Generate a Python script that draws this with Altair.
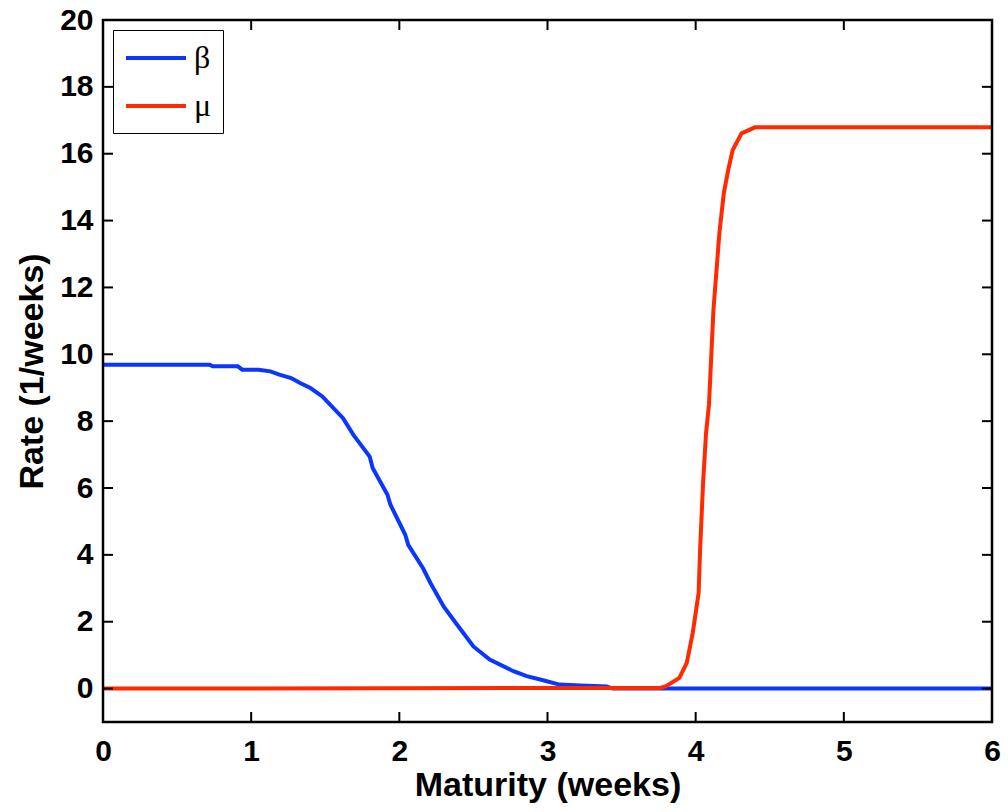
import altair as alt
import pandas as pd

# beta series (maturity in weeks, rate 1/weeks)
beta_x = [0.0, 0.72, 0.74, 0.91, 0.94, 1.05, 1.13, 1.19, 1.27, 1.33, 1.40, 1.48,
          1.62, 1.69, 1.80, 1.82, 1.92, 1.94, 2.04, 2.06, 2.16, 2.21, 2.30, 2.39,
          2.50, 2.61, 2.77, 2.86, 2.97, 3.08, 3.22, 3.40, 3.44, 6.0]
beta_y = [9.69, 9.69, 9.64, 9.64, 9.54, 9.54, 9.49, 9.39, 9.29, 9.14, 8.99, 8.74,
          8.09, 7.59, 6.94, 6.60, 5.80, 5.50, 4.60, 4.30, 3.60, 3.16, 2.45, 1.91,
          1.26, 0.87, 0.52, 0.37, 0.25, 0.12, 0.09, 0.06, 0.0, 0.0]

# mu series
mu_x = [0.0, 3.76, 3.80, 3.89, 3.94, 3.98, 4.02, 4.03, 4.05, 4.07, 4.09, 4.12,
        4.16, 4.19, 4.22, 4.25, 4.31, 4.40, 6.0]
mu_y = [0.0, 0.02, 0.07, 0.32, 0.77, 1.66, 2.86, 4.16, 6.15, 7.64, 8.50, 11.33,
        13.62, 14.82, 15.52, 16.11, 16.61, 16.79, 16.79]

series_names = ["β", "μ"]
series_colors = ["#0a36ff", "#ff2a00"]

x_ticks = [0, 1, 2, 3, 4, 5, 6]
y_ticks = [0, 2, 4, 6, 8, 10, 12, 14, 16, 18, 20]
x_domain = [0, 6]
y_domain = [-1, 20]

rows = []
for i, (xx, yy) in enumerate(zip(beta_x, beta_y)):
    rows.append({"x": xx, "y": yy, "series": series_names[0], "order": i})
for i, (xx, yy) in enumerate(zip(mu_x, mu_y)):
    rows.append({"x": xx, "y": yy, "series": series_names[1], "order": i})
df = pd.DataFrame(rows)

W, H = 889, 702
TL = 10  # inward tick length in pixels
dx = TL * (x_domain[1] - x_domain[0]) / W
dy = TL * (y_domain[1] - y_domain[0]) / H

# inward tick marks on all four sides (MATLAB style box)
xtick_rows = []
for v in x_ticks:
    xtick_rows.append({"x": v, "y": y_domain[0], "y2": y_domain[0] + dy})
    xtick_rows.append({"x": v, "y": y_domain[1], "y2": y_domain[1] - dy})
ytick_rows = []
for v in y_ticks:
    ytick_rows.append({"y": v, "x": x_domain[0], "x2": x_domain[0] + dx})
    ytick_rows.append({"y": v, "x": x_domain[1], "x2": x_domain[1] - dx})
xtick_df = pd.DataFrame(xtick_rows)
ytick_df = pd.DataFrame(ytick_rows)
frame_df = pd.DataFrame([{"x": x_domain[0], "x2": x_domain[1],
                          "y": y_domain[0], "y2": y_domain[1]}])

xscale = alt.Scale(domain=x_domain, nice=False, zero=False)
yscale = alt.Scale(domain=y_domain, nice=False, zero=False)

FONT = "Liberation Sans"

xaxis = alt.Axis(title="Maturity (weeks)", values=x_ticks, format="d",
                 ticks=False, domain=False, grid=False,
                 labelPadding=14, labelFlush=False,
                 labelFont=FONT, labelFontSize=30, labelFontWeight="bold",
                 labelColor="black", titleFont=FONT, titleFontSize=34,
                 titleFontWeight="bold", titleColor="black", titlePadding=2)
yaxis = alt.Axis(title="Rate (1/weeks)", values=y_ticks, format="d",
                 ticks=False, domain=False, grid=False,
                 labelPadding=10, labelFlush=False,
                 labelFont=FONT, labelFontSize=30, labelFontWeight="bold",
                 labelColor="black", titleFont=FONT, titleFontSize=34,
                 titleFontWeight="bold", titleColor="black", titlePadding=10)

lines = alt.Chart(df).mark_line(strokeWidth=4).encode(
    x=alt.X("x:Q", scale=xscale, axis=xaxis),
    y=alt.Y("y:Q", scale=yscale, axis=yaxis),
    color=alt.Color("series:N",
                    scale=alt.Scale(domain=series_names, range=series_colors),
                    legend=alt.Legend(title=None, orient="top-left", offset=10,
                                      padding=11, strokeColor="black",
                                      fillColor="white",
                                      symbolType="M-1,0H3", symbolSize=900,
                                      symbolStrokeWidth=4, labelOffset=36,
                                      labelFont="Liberation Serif",
                                      labelFontSize=32, labelColor="black",
                                      rowPadding=15)),
    order="order:Q",
)

xticks_layer = alt.Chart(xtick_df).mark_rule(
    strokeWidth=2, color="black"
).encode(
    x=alt.X("x:Q", scale=xscale, axis=xaxis),
    y=alt.Y("y:Q", scale=yscale, axis=yaxis),
    y2="y2:Q",
)

yticks_layer = alt.Chart(ytick_df).mark_rule(
    strokeWidth=2, color="black"
).encode(
    x=alt.X("x:Q", scale=xscale, axis=xaxis),
    x2="x2:Q",
    y=alt.Y("y:Q", scale=yscale, axis=yaxis),
)

frame = alt.Chart(frame_df).mark_rect(
    filled=False, stroke="black", strokeWidth=2.5
).encode(
    x=alt.X("x:Q", scale=xscale, axis=xaxis),
    x2="x2:Q",
    y=alt.Y("y:Q", scale=yscale, axis=yaxis),
    y2="y2:Q",
)

chart = alt.layer(lines, xticks_layer, yticks_layer, frame).properties(
    width=W, height=H,
    autosize=alt.AutoSizeParams(type="none"),
    padding={"left": 103, "top": 20, "right": 16, "bottom": 90},
)

chart.save("out.html", embed_options={"renderer": "svg", "actions": False})
